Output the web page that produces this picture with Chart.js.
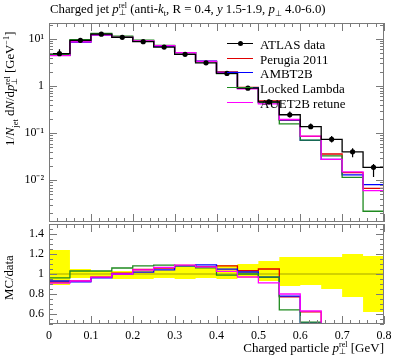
<!DOCTYPE html>
<html>
<head>
<meta charset="utf-8">
<script src="https://cdn.jsdelivr.net/npm/chart.js@4.4.0/dist/chart.umd.min.js"></script>
<style>
  body { margin: 0; background: #fff; }
  #wrap { position: relative; width: 397px; height: 358px; font-family: "Liberation Serif", serif; color: #000; }
  canvas { position: absolute; left: 0; }
  .t { position: absolute; white-space: nowrap; line-height: 1; }
  .ss { display: inline-block; vertical-align: -0.3em; font-size: 0.62em; line-height: 0.9; }
  .ss span { display: block; }
  .leg { position: absolute; left: 227px; font-size: 13px; white-space: nowrap; }
  .leg div { position: relative; height: 14.7px; }
  .leg i { position: absolute; left: 0; top: 6px; width: 26px; height: 0; border-top: 1.4px solid; }
  .leg b { position: absolute; left: 10.5px; top: 4.2px; width: 5px; height: 5px; border-radius: 50%; background: #000; }
  .leg span { position: absolute; left: 33px; top: 0; }
</style>
</head>
<body>
<div id="wrap">
  <canvas id="mainChart" width="397" height="226" style="top:0"></canvas>
  <canvas id="ratioChart" width="397" height="140" style="top:218px"></canvas>

  <div class="t" style="left:50px;top:2px;font-size:12.8px;">Charged jet <i>p</i><span class="ss"><span>rel</span><span>⊥</span></span> (anti-<i>k</i><sub style="font-size:0.65em">t</sub>, R = 0.4, <i>y</i> 1.5-1.9, <i>p</i><sub style="font-size:0.65em">⊥</sub> 4.0-6.0)</div>

  <div class="t" style="left:3px;top:146px;font-size:12.8px;transform-origin:0 0;transform:rotate(-90deg);">1/<i>N</i><sub style="font-size:0.65em">jet</sub> d<i>N</i>/d<i>p</i><span class="ss"><span>rel</span><span>⊥</span></span> [GeV<sup style="font-size:0.65em">−1</sup>]</div>

  <div class="t" style="left:3px;top:300px;font-size:12.8px;transform-origin:0 0;transform:rotate(-90deg);">MC/data</div>

  <div class="t" style="right:13px;top:341px;font-size:13px;">Charged particle <i>p</i><span class="ss"><span>rel</span><span>⊥</span></span> [GeV]</div>

  <div class="leg" style="top:37px;">
    <div><i style="border-color:#000"></i><b></b><span>ATLAS data</span></div>
    <div><i style="border-color:#e00000"></i><span>Perugia 2011</span></div>
    <div><i style="border-color:#0000ff"></i><span>AMBT2B</span></div>
    <div><i style="border-color:#1f8a1f"></i><span>Locked Lambda</span></div>
    <div><i style="border-color:#ff00ff"></i><span>AUET2B retune</span></div>
  </div>
</div>

<script>
// bins of charged particle p_perp^rel [GeV]
const binEdges = [0, 0.05, 0.1, 0.15, 0.2, 0.25, 0.3, 0.35, 0.4, 0.45, 0.5, 0.55, 0.6, 0.65, 0.7, 0.75, 0.8];

const atlasData = [4.85, 9.3, 12.6, 10.8, 8.7, 6.7, 4.7, 3.1, 1.85, 0.9, 0.46, 0.245, 0.137, 0.074, 0.04, 0.0188];
// data uncertainty band, as ratio to data
const dataRelUp   = [1.24, 1.05, 1.03, 1.03, 1.04, 1.04, 1.07, 1.06, 1.09, 1.10, 1.13, 1.17, 1.17, 1.17, 1.20, 1.18];
const dataRelDown = [0.89, 0.96, 0.96, 0.95, 0.95, 0.96, 0.95, 0.96, 0.95, 0.96, 0.93, 0.88, 0.89, 0.85, 0.77, 0.62];

const perugia2011   = [4.46, 8.65, 12.2, 10.9, 9.1, 7.1, 5.1, 3.33, 2.0, 0.93, 0.483, 0.189, 0.085, 0.036, 0.0145, 0.0067];
const ambt2b        = [4.51, 8.56, 12.1, 10.8, 8.87, 6.97, 5.08, 3.38, 1.94, 0.918, 0.446, 0.191, 0.07, 0.0277, 0.013, 0.0081];
const lockedLambda  = [4.66, 9.58, 12.98, 11.45, 9.4, 7.3, 5.08, 3.29, 1.83, 0.9, 0.446, 0.157, 0.071, 0.033, 0.0115, 0.0022];
const auet2bRetune  = [4.41, 8.65, 12.2, 10.8, 9.05, 7.14, 5.12, 3.32, 1.9, 0.873, 0.419, 0.196, 0.0863, 0.0277, 0.015, 0.006];

const xTicks = [0, 0.1, 0.2, 0.3, 0.4, 0.5, 0.6, 0.7, 0.8];
const xTickLabels = ['0', '0.1', '0.2', '0.3', '0.4', '0.5', '0.6', '0.7', '0.8'];
const mainYTicks = [0.01, 0.1, 1, 10];
const mainYLabels = ['10⁻²', '10⁻¹', '1', '10¹'];
const ratioYTicks = [0.6, 0.8, 1, 1.2, 1.4];
const ratioYLabels = ['0.6', '0.8', '1', '1.2', '1.4'];

const FONT = 'Liberation Serif';
const FRAME = '#7a7a7a';

function stepPoints(vals) {
  const pts = vals.map((v, i) => ({ x: binEdges[i], y: v }));
  pts.push({ x: binEdges[binEdges.length - 1], y: vals[vals.length - 1] });
  return pts;
}

function ratioOf(vals) {
  return vals.map((v, i) => v / atlasData[i]);
}

function histo(label, vals, color, order) {
  return {
    label: label,
    data: stepPoints(vals),
    borderColor: color,
    borderWidth: 1.3,
    stepped: true,
    pointRadius: 0,
    fill: false,
    order: order
  };
}

// minor tick helpers
const xMinor = [];
for (let v = 0; v <= 0.8001; v += 0.02) xMinor.push(+v.toFixed(2));
const mainYMinor = [];
for (let d = -3; d <= 1; d++) {
  for (let k = 2; k <= 9; k++) mainYMinor.push(k * Math.pow(10, d));
}
const ratioYMinor = [];
for (let v = 0.5; v <= 1.5001; v += 0.05) ratioYMinor.push(+v.toFixed(2));

// inward ticks on all four sides plus the frame, Rivet style
function frameTicks(yMajor, yMinor) {
  return {
    id: 'frameTicks',
    afterDatasetsDraw(chart) {
      const { ctx, chartArea: a, scales: { x, y } } = chart;
      ctx.save();
      ctx.strokeStyle = FRAME;
      ctx.lineWidth = 1;
      ctx.beginPath();
      const tick = (px, len, vertical) => {
        if (vertical) {
          ctx.moveTo(px, a.bottom); ctx.lineTo(px, a.bottom - len);
          ctx.moveTo(px, a.top); ctx.lineTo(px, a.top + len);
        } else {
          ctx.moveTo(a.left, px); ctx.lineTo(a.left + len, px);
          ctx.moveTo(a.right, px); ctx.lineTo(a.right - len, px);
        }
      };
      xMinor.forEach(v => tick(Math.round(x.getPixelForValue(v)) + 0.5, 4, true));
      xTicks.forEach(v => tick(Math.round(x.getPixelForValue(v)) + 0.5, 8, true));
      yMinor.forEach(v => {
        if (v >= y.min && v <= y.max) tick(Math.round(y.getPixelForValue(v)) + 0.5, 4, false);
      });
      yMajor.forEach(v => tick(Math.round(y.getPixelForValue(v)) + 0.5, 8, false));
      ctx.stroke();
      ctx.strokeRect(a.left + 0.5, a.top + 0.5, a.width - 1, a.height - 1);
      ctx.restore();
    }
  };
}

const errorBars = {
  id: 'errorBars',
  afterDatasetsDraw(chart) {
    const { ctx, scales: { x, y } } = chart;
    ctx.save();
    ctx.strokeStyle = '#000';
    ctx.lineWidth = 1.2;
    ctx.beginPath();
    atlasData.forEach((v, i) => {
      const px = x.getPixelForValue((binEdges[i] + binEdges[i + 1]) / 2);
      ctx.moveTo(px, y.getPixelForValue(v * dataRelUp[i]));
      ctx.lineTo(px, y.getPixelForValue(v * dataRelDown[i]));
    });
    ctx.stroke();
    ctx.restore();
  }
};

const yAxisFit = (scale) => {
  scale.width = 49;
  scale.paddingTop = 0;
  scale.paddingBottom = 0;
};

const mainChart = new Chart(document.getElementById('mainChart'), {
  type: 'line',
  data: {
    datasets: [
      {
        label: 'ATLAS data points',
        data: atlasData.map((v, i) => ({ x: (binEdges[i] + binEdges[i + 1]) / 2, y: v })),
        showLine: false,
        pointRadius: 2.6,
        pointBackgroundColor: '#000',
        pointBorderWidth: 0,
        order: 0
      },
      histo('ATLAS data', atlasData, '#000', 1),
      histo('AUET2B retune', auet2bRetune, '#ff00ff', 2),
      histo('Locked Lambda', lockedLambda, '#1f8a1f', 3),
      histo('AMBT2B', ambt2b, '#0000ff', 4),
      histo('Perugia 2011', perugia2011, '#e00000', 5)
    ]
  },
  options: {
    responsive: false,
    animation: false,
    layout: { padding: { top: 23, bottom: 2, left: 0, right: 13 } },
    plugins: { legend: { display: false }, tooltip: { enabled: false } },
    scales: {
      x: { type: 'linear', min: 0, max: 0.8, display: false },
      y: {
        type: 'logarithmic',
        min: 0.0013,
        max: 21.7,
        grid: { display: false, drawTicks: false },
        border: { display: false },
        afterBuildTicks: (scale) => { scale.ticks = mainYTicks.map(v => ({ value: v })); },
        afterFit: yAxisFit,
        ticks: {
          padding: 5,
          color: '#000',
          font: { family: FONT, size: 12 },
          callback: (v) => mainYLabels[mainYTicks.indexOf(v)]
        }
      }
    }
  },
  plugins: [errorBars, frameTicks(mainYTicks, mainYMinor)]
});

const ratioChart = new Chart(document.getElementById('ratioChart'), {
  type: 'line',
  data: {
    datasets: [
      histo('AUET2B retune', ratioOf(auet2bRetune), '#ff00ff', 1),
      histo('Locked Lambda', ratioOf(lockedLambda), '#1f8a1f', 2),
      histo('AMBT2B', ratioOf(ambt2b), '#0000ff', 3),
      histo('Perugia 2011', ratioOf(perugia2011), '#e00000', 4),
      {
        label: 'data',
        data: stepPoints(atlasData.map(() => 1)),
        borderColor: '#a5a500',
        borderWidth: 1.2,
        stepped: true,
        pointRadius: 0,
        order: 5
      },
      {
        label: 'band up',
        data: stepPoints(dataRelUp),
        stepped: true,
        pointRadius: 0,
        borderWidth: 0,
        backgroundColor: '#ffff00',
        fill: '+1',
        order: 6
      },
      {
        label: 'band down',
        data: stepPoints(dataRelDown),
        stepped: true,
        pointRadius: 0,
        borderWidth: 0,
        fill: false,
        order: 7
      }
    ]
  },
  options: {
    responsive: false,
    animation: false,
    layout: { padding: { top: 6, bottom: 0, left: 0, right: 13 } },
    plugins: { legend: { display: false }, tooltip: { enabled: false } },
    scales: {
      x: {
        type: 'linear',
        min: 0,
        max: 0.8,
        grid: { display: false, drawTicks: false },
        border: { display: false },
        afterBuildTicks: (scale) => { scale.ticks = xTicks.map(v => ({ value: v })); },
        afterFit: (scale) => { scale.height = 34; scale.paddingLeft = 0; scale.paddingRight = 0; },
        ticks: {
          padding: 5,
          maxRotation: 0,
          color: '#000',
          font: { family: FONT, size: 12 },
          callback: (v) => xTickLabels[xTicks.indexOf(v)]
        }
      },
      y: {
        type: 'linear',
        min: 0.5,
        max: 1.5,
        grid: { display: false, drawTicks: false },
        border: { display: false },
        afterBuildTicks: (scale) => { scale.ticks = ratioYTicks.map(v => ({ value: v })); },
        afterFit: yAxisFit,
        ticks: {
          padding: 5,
          color: '#000',
          font: { family: FONT, size: 12 },
          callback: (v) => ratioYLabels[ratioYTicks.indexOf(v)]
        }
      }
    }
  },
  plugins: [frameTicks(ratioYTicks, ratioYMinor)]
});
</script>
</body>
</html>
